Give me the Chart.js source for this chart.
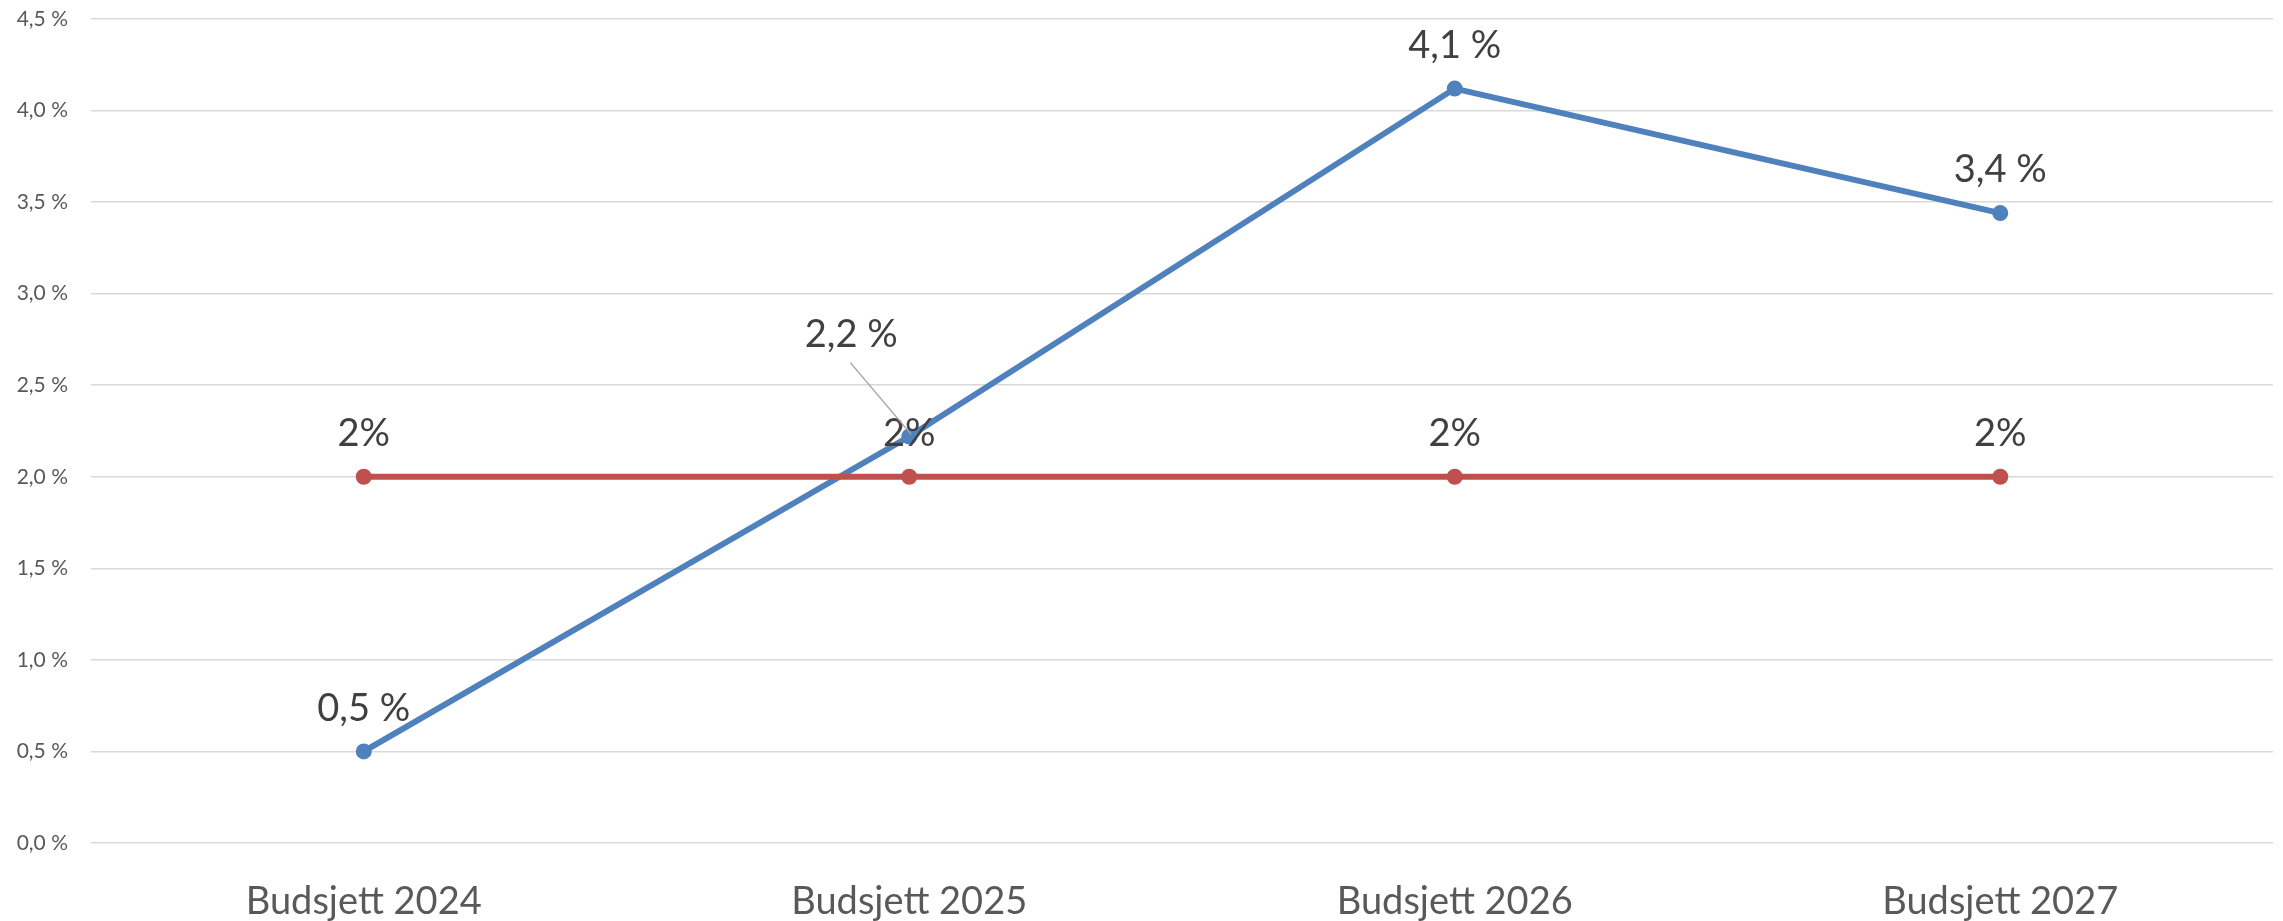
<!DOCTYPE html>
<html>
<head>
<meta charset="utf-8">
<script src="https://cdn.jsdelivr.net/npm/chart.js@4/dist/chart.umd.min.js"></script>
<style>
html,body{margin:0;padding:0;background:#fff;}
#wrap{width:2283px;height:921px;position:relative;}
</style>
</head>
<body>
<div id="wrap"><canvas id="c" width="2283" height="921"></canvas></div>
<script>
const categories = ['Budsjett 2024', 'Budsjett 2025', 'Budsjett 2026', 'Budsjett 2027'];
const seriesBlue = [0.5, 2.22, 4.12, 3.44];
const seriesRed = [2.0, 2.0, 2.0, 2.0];
const blueLabels = ['0,5 %', '2,2 %', '4,1 %', '3,4 %'];
const redLabels = ['2%', '2%', '2%', '2%'];
const yTicks = [0, 0.5, 1, 1.5, 2, 2.5, 3, 3.5, 4, 4.5];

const FONT = 'Lato, "Open Sans", sans-serif';

const labelPlugin = {
  id: 'pointLabels',
  afterDatasetsDraw(chart) {
    const ctx = chart.ctx;
    ctx.save();
    ctx.font = '38px ' + FONT;
    ctx.fillStyle = '#404040';
    ctx.textAlign = 'center';
    ctx.textBaseline = 'middle';
    chart.data.datasets.forEach((ds, di) => {
      const meta = chart.getDatasetMeta(di);
      meta.data.forEach((pt, i) => {
        const lab = ds.pointLabels[i];
        const off = (ds.labelOffsets && ds.labelOffsets[i]) || [0, -43];
        const lx = pt.x + off[0], ly = pt.y + off[1];
        if (ds.leaders && ds.leaders[i]) {
          ctx.save();
          ctx.strokeStyle = '#a6a6a6';
          ctx.lineWidth = 1.2;
          ctx.beginPath();
          ctx.moveTo(lx - 1, ly + 28);
          ctx.lineTo(pt.x + 2, pt.y - 2);
          ctx.stroke();
          ctx.restore();
        }
        ctx.fillText(lab, lx, ly);
      });
    });
    ctx.restore();
  }
};

new Chart(document.getElementById('c'), {
  type: 'line',
  data: {
    labels: categories,
    datasets: [
      {
        label: 'Mål',
        data: seriesRed,
        pointLabels: redLabels,
        borderColor: '#c0504d',
        backgroundColor: '#c0504d',
        borderWidth: 6,
        pointRadius: 8,
        pointHoverRadius: 8,
        pointBorderWidth: 0,
        tension: 0,
        order: 0
      },
      {
        label: 'Endring',
        data: seriesBlue,
        pointLabels: blueLabels,
        labelOffsets: [null, [-58, -102], null, null],
        leaders: [false, true, false, false],
        borderColor: '#4f81bd',
        backgroundColor: '#4f81bd',
        borderWidth: 6,
        pointRadius: 8,
        pointHoverRadius: 8,
        pointBorderWidth: 0,
        tension: 0,
        order: 1
      }
    ]
  },
  options: {
    responsive: false,
    animation: false,
    devicePixelRatio: 1,
    layout: { padding: { top: 19, right: 10, left: 0, bottom: 0 } },
    plugins: { legend: { display: false }, tooltip: { enabled: false } },
    scales: {
      x: {
        offset: true,
        grid: { display: false, drawTicks: false },
        border: { display: false },
        ticks: { color: '#595959', font: { family: FONT, size: 38 }, padding: 36, maxRotation: 0 },
        afterFit(s) { s.height = 78; s.paddingLeft = 0; s.paddingRight = 0; }
      },
      y: {
        min: 0, max: 4.5,
        afterBuildTicks(s) { s.ticks = yTicks.map(v => ({ value: v })); },
        grid: { color: '#d9d9d9', lineWidth: 1.5, drawTicks: false },
        border: { display: false },
        ticks: {
          color: '#595959',
          font: { family: FONT, size: 21 },
          padding: 23,
          callback: v => v.toFixed(1).replace('.', ',') + ' %'
        },
        afterFit(s) { s.width = 91; s.paddingTop = 0; s.paddingBottom = 0; }
      }
    }
  },
  plugins: [labelPlugin]
});
</script>
</body>
</html>
